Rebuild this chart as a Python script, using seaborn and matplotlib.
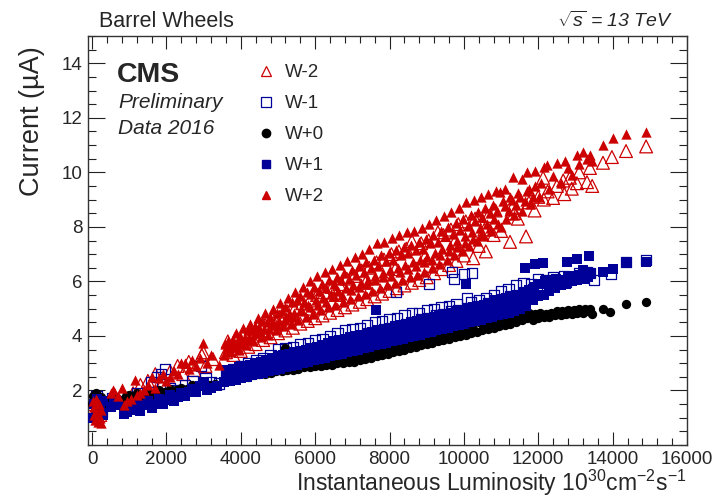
import matplotlib
matplotlib.use("Agg")
import matplotlib.pyplot as plt
from matplotlib.lines import Line2D
from matplotlib.ticker import MultipleLocator
import seaborn as sns
import pandas as pd

# ---------------- data, (luminosity, current) ----------------
wm2_pts = [
    (30, 1.5), (90, 1.2), (160, 1.6), (220, 1.1), (600, 1.85), (1100, 1.9), (1300, 2.2), (1500, 2.35),
    (1700, 2.6), (1900, 2.3), (2100, 2.7), (2300, 2.9), (2450, 2.6), (2600, 3.05), (2750, 2.75),
    (2950, 3.3), (3050, 2.9), (3250, 3.15), (2990, 3.4),
    (3600, 3.4), (3650, 3.8), (3800, 3.3), (3850, 3.9), (4000, 3.45), (4050, 4.0), (4200, 3.6), (4250, 4.1),
    (4400, 3.7), (4450, 4.3), (4600, 3.85), (4650, 4.4), (4800, 3.95), (4850, 4.6), (5000, 4.1), (5050, 4.7),
    (5200, 4.2), (5250, 4.9), (5400, 4.3), (5450, 5.0), (5600, 4.45), (5650, 5.2), (5800, 4.55), (5850, 5.3),
    (6000, 4.65), (6050, 5.5), (6200, 4.75), (6250, 5.6), (6400, 4.85), (6450, 5.8), (6600, 4.95), (6650, 5.9),
    (6800, 5.05), (6850, 6.1), (7000, 5.15), (7050, 6.2), (7200, 5.25), (7250, 6.4), (7400, 5.35), (7450, 6.5),
    (7600, 5.45), (7650, 6.7), (7800, 5.55), (7850, 6.8), (8000, 5.65), (8050, 7.0), (8200, 5.75), (8250, 7.1),
    (8400, 5.85), (8450, 7.2), (8600, 5.95), (8600, 7.48), (8800, 6.05), (8850, 7.4), (9000, 6.15), (9050, 7.5),
    (9200, 6.3), (9300, 7.8), (9400, 6.45), (9450, 7.7), (9600, 6.6), (9650, 7.9), (9800, 6.75), (9850, 8.1),
    (10000, 6.95), (10050, 8.2), (10250, 6.85), (10300, 8.3), (10400, 7.3), (10590, 7.1), (10650, 8.4),
    (10800, 7.7), (10850, 8.6), (11000, 7.85), (11240, 7.45), (11300, 8.7), (11450, 8.3), (11670, 7.65),
    (11750, 8.9), (11900, 8.6), (12000, 9.1), (12130, 9.8), (12250, 9.3), (12400, 9.06), (12500, 9.5),
    (12670, 9.7), (12700, 9.2), (12850, 9.8), (12900, 9.4), (13040, 9.6), (13100, 10.0), (13310, 9.64),
    (13390, 10.16), (13450, 9.5), (13740, 10.35), (13980, 10.56), (14360, 10.78), (14900, 10.95),
    (4150, 3.9), (4950, 4.5), (5750, 5.0), (6550, 5.5), (7350, 5.95), (8150, 6.45), (8950, 6.9),
    (9750, 7.45), (10550, 7.9), (11350, 8.5), (12150, 9.0),
]

wm1_pts = [
    (40, 1.3), (120, 1.8), (200, 1.5), (260, 1.2), (550, 1.7), (800, 1.6), (1000, 1.75), (1200, 1.9),
    (1400, 1.7), (1600, 2.3), (1750, 2.5), (1850, 2.6), (1960, 2.8), (2100, 2.1), (2300, 2.0), (2500, 2.2),
    (2700, 2.35), (2930, 2.9), (3050, 2.45), (3200, 2.3), (3410, 2.25),
    (3600, 2.7), (3650, 2.5), (3800, 2.8), (3850, 2.6), (4000, 2.9), (4050, 2.7), (4200, 3.0), (4250, 2.75),
    (4400, 3.1), (4450, 2.85), (4600, 3.2), (4650, 2.95), (4800, 3.3), (4850, 3.0), (5000, 3.5), (5050, 3.1),
    (5200, 3.55), (5250, 3.2), (5400, 3.6), (5450, 3.3), (5600, 3.7), (5650, 3.35), (5800, 3.75), (5850, 3.45),
    (6000, 3.85), (6050, 3.5), (6200, 3.9), (6250, 3.6), (6400, 4.0), (6450, 3.7), (6600, 4.1), (6650, 3.75),
    (6800, 4.2), (6850, 3.85), (7000, 4.25), (7050, 3.9), (7200, 4.3), (7250, 4.0), (7400, 4.4), (7450, 4.1),
    (7600, 4.5), (7650, 4.15), (7800, 4.55), (7850, 4.25), (8000, 4.6), (8050, 4.3), (8170, 5.6),
    (8200, 4.65), (8250, 4.35), (8400, 4.75), (8450, 4.45), (8600, 4.85), (8650, 4.5), (8800, 4.85),
    (8850, 4.6), (9000, 4.95), (9050, 4.65), (9060, 5.9), (9200, 5.0), (9250, 4.75), (9400, 5.05),
    (9450, 4.8), (9600, 5.1), (9650, 4.9), (9680, 6.35), (9730, 6.1), (9800, 5.15), (9850, 4.95),
    (10000, 6.27), (10080, 5.4), (10220, 6.3), (10200, 5.25), (10250, 5.0), (10400, 5.3), (10450, 5.1),
    (10600, 5.4), (10650, 5.2), (10800, 5.5), (10850, 5.25), (11000, 5.65), (11050, 5.35), (11200, 5.7),
    (11250, 5.45), (11400, 5.85), (11450, 5.5), (11600, 5.95), (11650, 5.6), (11800, 5.9), (11850, 5.7),
    (12000, 6.1), (12050, 5.8), (12200, 6.05), (12250, 5.85), (12400, 6.15), (12450, 5.9), (12690, 6.2),
    (12750, 6.0), (12900, 6.15), (13100, 6.3), (13310, 6.35), (13390, 6.3), (13500, 6.05), (13960, 6.27),
    (14360, 6.7), (14900, 6.78),
]

w0_pts = [
    (0, 1.5), (30, 1.8), (70, 1.4), (110, 1.9), (150, 1.6), (190, 1.3), (230, 1.75), (270, 1.5), (300, 1.65),
    (520, 1.7), (650, 1.75), (800, 1.6), (900, 1.8), (1000, 1.85), (1100, 1.7), (1200, 1.9), (1350, 1.8),
    (1500, 1.95), (1650, 1.85), (1800, 2.0), (1950, 1.95), (2100, 2.05), (2250, 2.0), (2400, 2.1),
    (2550, 2.05), (2700, 2.2), (2850, 2.15), (3000, 2.3), (3150, 2.2), (3300, 2.25),
    (3600, 2.35), (3650, 2.5), (3750, 2.4), (3800, 2.55), (3900, 2.45), (3950, 2.6), (4050, 2.5), (4100, 2.65),
    (4200, 2.5), (4250, 2.7), (4350, 2.55), (4400, 2.7), (4500, 2.6), (4550, 2.75), (4650, 2.6), (4700, 2.8),
    (4800, 2.65), (4850, 2.8), (4950, 2.7), (5000, 2.85), (5100, 2.7), (5150, 2.9), (5190, 3.55), (5250, 2.75),
    (5300, 2.9), (5400, 2.75), (5450, 2.95), (5550, 2.8), (5600, 2.95), (5700, 2.85), (5750, 3.0), (5850, 2.85),
    (5900, 3.0), (6000, 2.9), (6050, 3.05), (6150, 2.9), (6200, 3.05), (6300, 2.95), (6350, 3.1), (6450, 2.95),
    (6500, 3.1), (6600, 3.0), (6650, 3.15), (6750, 3.0), (6800, 3.2), (6900, 3.05), (6950, 3.2), (7050, 3.05),
    (7100, 3.25), (7200, 3.1), (7250, 3.3), (7350, 3.15), (7400, 3.3), (7500, 3.2), (7550, 3.35), (7650, 3.25),
    (7700, 3.4), (7800, 3.3), (7850, 3.45), (7950, 3.35), (8000, 3.5), (8100, 3.4), (8150, 3.55), (8250, 3.45),
    (8300, 3.6), (8400, 3.5), (8450, 3.65), (8550, 3.55), (8600, 3.7), (8700, 3.6), (8750, 3.75), (8850, 3.65),
    (8900, 3.8), (9000, 3.7), (9050, 3.85), (9150, 3.75), (9200, 3.9), (9300, 3.8), (9350, 3.95), (9450, 3.85),
    (9500, 4.0), (9600, 3.9), (9650, 4.05), (9750, 3.95), (9800, 4.1), (9900, 4.0), (9950, 4.15), (10050, 4.05),
    (10100, 4.2), (10200, 4.1), (10250, 4.25), (10350, 4.15), (10400, 4.5), (10500, 4.2), (10550, 4.35),
    (10650, 4.25), (10700, 4.4), (10800, 4.3), (10850, 4.5), (10950, 4.35), (11000, 4.55), (11100, 4.4),
    (11150, 4.6), (11250, 4.45), (11300, 4.65), (11400, 4.5), (11450, 4.7), (11550, 4.6), (11600, 4.8),
    (11700, 4.65), (11750, 4.85), (11850, 4.6), (11900, 4.8), (12000, 4.65), (12050, 4.85), (12150, 4.7),
    (12200, 4.8), (12300, 4.7), (12350, 4.85), (12450, 4.75), (12500, 4.9), (12600, 4.75), (12650, 4.9),
    (12750, 4.8), (12800, 4.95), (12900, 4.8), (12950, 4.95), (13050, 4.85), (13100, 5.0), (13200, 4.85),
    (13250, 5.0), (13350, 4.9), (13400, 5.0), (13450, 4.8), (13740, 4.99), (13930, 4.88), (14360, 5.17),
    (14900, 5.24),
]

wp1_pts = [
    (20, 1.0), (60, 1.5), (100, 1.2), (140, 1.7), (180, 0.95), (220, 1.4), (280, 1.6), (300, 1.1), (500, 1.4),
    (600, 1.55), (700, 1.45), (850, 1.15), (950, 1.2), (1050, 1.3), (1150, 1.55), (1300, 1.25), (1400, 1.45),
    (1500, 1.6), (1600, 1.35), (1700, 1.5), (1800, 1.7), (1900, 1.5), (2000, 1.65), (2100, 1.85), (2200, 1.6),
    (2300, 1.75), (2400, 1.9), (2500, 1.8), (2600, 1.95), (2700, 2.05), (2800, 1.95), (2900, 2.15),
    (3000, 2.3), (3100, 2.0), (3200, 2.1), (3350, 2.15),
    (3560, 2.3), (3600, 2.55), (3640, 2.75), (3710, 2.35), (3750, 2.6), (3790, 2.8), (3860, 2.4), (3900, 2.7),
    (3940, 2.85), (4010, 2.45), (4050, 2.65), (4090, 2.9), (4160, 2.5), (4200, 2.8), (4240, 2.95),
    (4310, 2.55), (4350, 2.75), (4390, 3.0), (4460, 2.6), (4500, 2.85), (4540, 3.05), (4610, 2.65),
    (4650, 2.95), (4690, 3.1), (4760, 2.7), (4800, 2.9), (4840, 3.2), (4910, 2.75), (4950, 3.0), (4990, 3.25),
    (5060, 2.8), (5100, 3.1), (5140, 3.3), (5210, 2.85), (5250, 3.05), (5290, 3.35), (5360, 2.9), (5400, 3.15),
    (5440, 3.4), (5510, 2.95), (5550, 3.2), (5590, 3.45), (5660, 3.0), (5700, 3.3), (5740, 3.5), (5810, 3.05),
    (5850, 3.25), (5890, 3.55), (5960, 3.1), (6000, 3.35), (6040, 3.6), (6110, 3.15), (6150, 3.45),
    (6190, 3.65), (6260, 3.2), (6300, 3.4), (6340, 3.75), (6410, 3.25), (6450, 3.5), (6490, 3.8),
    (6560, 3.3), (6600, 3.6), (6640, 3.85), (6710, 3.35), (6750, 3.55), (6790, 3.9), (6860, 3.4), (6900, 3.65),
    (6940, 3.95), (7010, 3.45), (7050, 3.75), (7090, 4.0), (7160, 3.5), (7200, 3.7), (7240, 4.05),
    (7310, 3.55), (7350, 3.8), (7390, 4.1), (7460, 3.6), (7500, 3.9), (7540, 4.15), (7610, 3.65),
    (7640, 4.95), (7650, 3.85), (7690, 4.2), (7760, 3.7), (7800, 3.95), (7840, 4.25), (7910, 3.75),
    (7950, 4.05), (7990, 4.3), (8060, 3.8), (8100, 4.0), (8140, 4.35), (8210, 3.85), (8250, 4.1), (8290, 4.4),
    (8360, 3.9), (8400, 4.2), (8440, 4.45), (8510, 3.95), (8550, 4.15), (8590, 4.5), (8660, 4.0), (8700, 4.25),
    (8740, 4.55), (8810, 4.05), (8850, 4.35), (8890, 4.6), (8960, 4.1), (9000, 4.3), (9040, 4.65),
    (9110, 4.15), (9150, 4.4), (9190, 4.7), (9260, 4.2), (9300, 4.5), (9340, 4.75), (9410, 4.25), (9450, 4.45),
    (9490, 4.8), (9560, 4.3), (9600, 4.55), (9640, 4.85), (9710, 4.35), (9750, 4.65), (9790, 4.9),
    (9860, 4.4), (9900, 4.6), (9940, 4.95), (10010, 4.45), (10050, 4.7), (10060, 5.9), (10090, 5.0),
    (10160, 4.5), (10200, 4.8), (10240, 5.05), (10310, 4.55), (10350, 4.75), (10390, 5.1), (10460, 4.6),
    (10500, 4.85), (10540, 5.15), (10610, 4.65), (10650, 4.95), (10690, 5.2), (10760, 4.7), (10800, 4.9),
    (10840, 5.3), (10910, 4.75), (10950, 5.0), (10990, 5.35), (11060, 4.8), (11100, 5.1), (11140, 5.4),
    (11210, 4.85), (11250, 5.05), (11290, 5.45), (11360, 4.9), (11400, 5.15), (11440, 5.5), (11510, 5.0),
    (11550, 5.25), (11590, 5.6), (11640, 6.5), (11660, 5.1), (11700, 5.4), (11740, 5.7),
    (11850, 5.3), (11880, 5.8), (11910, 6.64), (12000, 5.45), (12030, 5.9), (12130, 6.68), (12150, 5.5),
    (12180, 6.0), (12300, 5.65), (12330, 6.05), (12450, 5.75), (12480, 6.1), (12600, 5.85), (12630, 6.05),
    (12750, 5.9), (12770, 6.7), (12800, 6.15), (12900, 6.0), (12940, 6.2), (13040, 6.82), (13050, 6.05),
    (13100, 6.25), (13200, 6.42), (13250, 6.1), (13350, 6.15), (13360, 6.93), (13400, 6.3),
    (13740, 6.35), (14010, 6.45), (14360, 6.67), (14900, 6.72),
    (3680, 2.65), (3980, 2.8), (4280, 2.9), (4580, 3.0), (4880, 3.1), (5180, 3.2), (5480, 3.3), (5780, 3.4),
    (6080, 3.5), (6380, 3.6), (6680, 3.7), (6980, 3.85), (7280, 3.9), (7580, 4.0), (7880, 4.15), (8180, 4.25),
    (8480, 4.3), (8780, 4.45), (9080, 4.5), (9380, 4.6), (9680, 4.75), (9980, 4.85), (10280, 4.95),
    (10580, 5.05), (10880, 5.15), (11180, 5.25), (11480, 5.4),
    (3830, 2.5), (4130, 2.6), (4430, 2.7), (4730, 2.8), (5030, 2.95), (5330, 3.0), (5630, 3.1), (5930, 3.2),
    (6230, 3.3), (6530, 3.4), (6830, 3.5), (7130, 3.6), (7430, 3.7), (7730, 3.8), (8030, 3.9), (8330, 4.0),
    (8630, 4.1), (8930, 4.2), (9230, 4.3), (9530, 4.4), (9830, 4.5), (10130, 4.6), (10430, 4.7),
    (10730, 4.8), (11030, 4.9), (11330, 5.0),
]

wp2_pts = [
    (20, 1.6), (40, 1.1), (60, 1.4), (80, 0.9), (100, 1.7), (120, 1.2), (150, 0.85), (180, 1.5), (200, 1.0),
    (230, 1.3), (250, 0.8), (500, 1.9), (550, 2.0), (700, 1.8), (800, 2.1), (850, 1.45), (950, 1.6),
    (1050, 1.7), (1150, 2.4), (1200, 1.85), (1300, 1.9), (1400, 2.0), (1500, 2.2), (1600, 2.5), (1700, 2.1),
    (1800, 2.45), (1900, 2.6), (2000, 2.35), (2100, 2.5), (2200, 2.7), (2300, 2.6), (2400, 3.0), (2500, 3.0),
    (2600, 2.8), (2700, 3.1), (2800, 2.9), (2900, 3.2), (2990, 3.75), (3100, 3.0), (3200, 3.3), (3400, 2.95),
    (3540, 3.3), (3580, 3.7), (3620, 3.55), (3660, 3.8), (3740, 3.4), (3780, 3.85), (3820, 3.7), (3860, 4.1),
    (3940, 3.5), (3980, 4.0), (4020, 3.8), (4060, 4.3), (4140, 3.65), (4180, 4.2), (4220, 3.95), (4260, 4.45),
    (4340, 3.8), (4380, 4.35), (4420, 4.1), (4460, 4.65), (4540, 3.95), (4580, 4.55), (4620, 4.25),
    (4660, 4.85), (4740, 4.05), (4780, 4.7), (4820, 4.4), (4860, 5.0), (4940, 4.2), (4980, 4.85), (5020, 4.55),
    (5060, 5.2), (5140, 4.35), (5180, 5.05), (5220, 4.7), (5260, 5.4), (5340, 4.45), (5380, 5.25),
    (5420, 4.85), (5460, 5.6), (5540, 4.6), (5580, 5.45), (5620, 5.0), (5660, 5.8), (5740, 4.7), (5780, 5.6),
    (5820, 5.15), (5860, 6.0), (5940, 4.8), (5980, 5.8), (6020, 5.3), (6060, 6.2), (6140, 4.95), (6180, 5.9),
    (6220, 5.4), (6260, 6.35), (6340, 5.05), (6380, 6.05), (6420, 5.55), (6460, 6.45), (6540, 5.15),
    (6580, 6.15), (6620, 5.65), (6660, 6.6), (6740, 5.25), (6780, 6.3), (6820, 5.75), (6860, 6.75),
    (6940, 5.35), (6980, 6.4), (7020, 5.85), (7060, 6.9), (7140, 5.45), (7180, 6.55), (7220, 5.95),
    (7260, 7.0), (7340, 5.55), (7380, 6.7), (7420, 6.05), (7460, 7.2), (7540, 5.65), (7580, 6.8), (7620, 6.2),
    (7660, 7.4), (7740, 5.75), (7780, 6.95), (7820, 6.3), (7860, 7.45), (7940, 5.85), (7980, 7.05),
    (8020, 6.4), (8060, 7.6), (8140, 5.95), (8180, 7.15), (8220, 6.5), (8260, 7.7), (8340, 6.05), (8380, 7.25),
    (8420, 6.6), (8460, 7.8), (8540, 6.15), (8580, 7.35), (8620, 6.7), (8660, 7.85), (8740, 6.25),
    (8780, 7.45), (8820, 6.8), (8860, 7.95), (8940, 6.35), (8980, 7.55), (9020, 6.9), (9060, 8.1),
    (9140, 6.5), (9180, 7.7), (9220, 7.05), (9260, 8.25), (9340, 6.65), (9380, 7.85), (9420, 7.2),
    (9460, 8.4), (9540, 6.8), (9580, 8.0), (9620, 7.35), (9660, 8.55), (9740, 6.95), (9780, 8.15),
    (9820, 7.5), (9860, 8.7), (9940, 7.1), (9980, 8.3), (10020, 7.65), (10060, 8.9), (10140, 7.3),
    (10180, 8.45), (10220, 7.8), (10260, 9.0), (10340, 7.5), (10380, 8.55), (10420, 7.95), (10460, 9.1),
    (10540, 7.65), (10580, 8.7), (10620, 8.1), (10660, 9.2), (10740, 7.85), (10780, 8.8), (10820, 8.3),
    (10860, 9.3), (10970, 9.28), (11000, 8.0), (11040, 8.95), (11100, 9.4), (11200, 8.6), (11240, 9.1),
    (11320, 9.83), (11400, 8.8), (11450, 9.25), (11550, 9.75), (11650, 8.95), (11700, 10.0), (11760, 9.4),
    (11850, 9.1), (11910, 10.05), (12020, 9.1), (12080, 9.6), (12150, 10.2), (12230, 10.27), (12300, 9.4),
    (12400, 9.85), (12500, 10.34), (12600, 9.6), (12720, 10.4), (12800, 10.15), (12900, 9.9),
    (13040, 10.63), (13100, 10.3), (13200, 10.74), (13300, 10.5), (13390, 10.63), (13450, 10.4),
    (13740, 11.0), (14010, 11.26), (14360, 11.4), (14900, 11.48),
    (3700, 3.6), (3900, 3.75), (4100, 3.9), (4300, 4.2), (4500, 4.3), (4700, 4.5), (4900, 4.45), (5100, 4.9),
    (5300, 4.8), (5500, 5.3), (5700, 5.25), (5900, 5.55), (6100, 5.65), (6300, 5.75), (6500, 5.9),
    (6700, 6.05), (6900, 6.1), (7100, 6.25), (7300, 6.35), (7500, 6.5), (7700, 6.55), (7900, 6.75),
    (8100, 6.8), (8300, 6.95), (8500, 7.05), (8700, 7.15), (8900, 7.2), (9100, 7.4), (9300, 7.45),
    (9500, 7.65), (9700, 7.75), (9900, 7.9), (10100, 8.05), (10300, 8.2), (10500, 8.35), (10700, 8.5),
    (10900, 8.6), (11100, 8.75), (11300, 9.0), (11500, 9.1), (11700, 9.3), (11900, 9.5),
    (3650, 3.45), (3870, 3.6), (4090, 3.7), (4310, 3.9), (4530, 4.1), (4750, 4.25), (4970, 4.4), (5190, 4.6),
    (5410, 4.7), (5630, 4.9), (5850, 5.05), (6070, 5.15), (6290, 5.25), (6510, 5.45), (6730, 5.5),
    (6950, 5.7), (7170, 5.8), (7390, 5.9), (7610, 6.05), (7830, 6.15), (8050, 6.2), (8270, 6.35),
    (8490, 6.45), (8710, 6.55), (8930, 6.7), (9150, 6.8), (9370, 6.95), (9590, 7.1), (9810, 7.25),
    (10030, 7.4), (10250, 7.55), (10470, 7.7), (10690, 7.95), (10910, 8.1), (11130, 8.3), (11350, 8.45),
    (11570, 8.6), (11790, 8.85),
]

labels = ["W-2", "W-1", "W+0", "W+1", "W+2"]
x_ticks = [0, 2000, 4000, 6000, 8000, 10000, 12000, 14000, 16000]
y_ticks = [2, 4, 6, 8, 10, 12, 14]

RED = "#cc0000"
BLUE = "#000099"
BLACK = "#000000"

# ---------------- style ----------------
sns.set_theme(style="ticks")
plt.rcParams["font.family"] = ["Liberation Sans", "DejaVu Sans"]
plt.rcParams["mathtext.fontset"] = "custom"
plt.rcParams["mathtext.rm"] = "Liberation Sans"
plt.rcParams["mathtext.it"] = "Liberation Sans:italic"
plt.rcParams["mathtext.default"] = "regular"

W, H = 715, 504
fig = plt.figure(figsize=(W / 100, H / 100), dpi=100)
ax = fig.add_axes([88 / W, 1 - 445 / H, (687 - 88) / W, (445 - 36) / H])


def frame(pts):
    return pd.DataFrame({"x": [p[0] for p in pts], "y": [p[1] for p in pts]})


sns.scatterplot(data=frame(wm2_pts), x="x", y="y", ax=ax, marker="^", s=85,
                facecolors="none", edgecolors=RED, linewidth=0.9, legend=False, zorder=2)
sns.scatterplot(data=frame(wm1_pts), x="x", y="y", ax=ax, marker="s", s=55,
                facecolors="none", edgecolors=BLUE, linewidth=0.9, legend=False, zorder=2)
sns.scatterplot(data=frame(w0_pts), x="x", y="y", ax=ax, marker="o", s=45,
                color=BLACK, edgecolor=BLACK, linewidth=0, legend=False, zorder=3)
sns.scatterplot(data=frame(wp1_pts), x="x", y="y", ax=ax, marker="s", s=45,
                color=BLUE, edgecolor=BLUE, linewidth=0, legend=False, zorder=4)
sns.scatterplot(data=frame(wp2_pts), x="x", y="y", ax=ax, marker="^", s=55,
                color=RED, edgecolor=RED, linewidth=0, legend=False, zorder=5)

ax.set_xlim(-110, 16000)
ax.set_ylim(0, 15)
ax.set_xticks(x_ticks)
ax.set_xticklabels([str(v) for v in x_ticks])
ax.set_yticks(y_ticks)
ax.set_yticklabels([str(v) for v in y_ticks])
ax.xaxis.set_minor_locator(MultipleLocator(400))
ax.yaxis.set_minor_locator(MultipleLocator(0.5))

ax.tick_params(axis="both", which="both", direction="in", top=True, right=True,
               labelsize=13.5, width=0.8, color="#222222")
ax.tick_params(axis="x", which="major", length=9.4, pad=4)
ax.tick_params(axis="x", which="minor", length=5)
ax.tick_params(axis="y", which="major", length=12, pad=4)
ax.tick_params(axis="y", which="minor", length=6)
for sp in ax.spines.values():
    sp.set_linewidth(1.0)
    sp.set_color("#333333")

ax.set_xlabel("Instantaneous Luminosity 10$^{30}$cm$^{-2}$s$^{-1}$", fontsize=16.5, loc="right")
ax.xaxis.set_label_coords(1.0, -0.056)
ax.set_ylabel("Current (\u00b5A)", fontsize=19.5, loc="top")
ax.yaxis.set_label_coords(-0.072, 0.975)

fig.text(99 / W, 1 - 27 / H, "Barrel Wheels", fontsize=15.5, ha="left", va="baseline")
fig.text(673 / W, 1 - 27 / H, r"$\sqrt{s}$ = 13 TeV", fontsize=14, style="italic",
         ha="right", va="baseline")
fig.text(117 / W, 1 - 82 / H, "CMS", fontsize=20.5, weight="bold", ha="left", va="baseline")
fig.text(118 / W, 1 - 108 / H, "Preliminary", fontsize=15, style="italic", ha="left", va="baseline")
fig.text(118 / W, 1 - 134 / H, "Data 2016", fontsize=15, style="italic", ha="left", va="baseline")

handles = [
    Line2D([], [], ls="", marker="^", ms=7, mfc="none", mec=RED, mew=0.9),
    Line2D([], [], ls="", marker="s", ms=6.5, mfc="none", mec=BLUE, mew=0.9),
    Line2D([], [], ls="", marker="o", ms=6, mfc=BLACK, mec=BLACK),
    Line2D([], [], ls="", marker="s", ms=5.5, mfc=BLUE, mec=BLUE),
    Line2D([], [], ls="", marker="^", ms=6, mfc=RED, mec=RED),
]
ax.legend(handles, labels, loc="upper left", bbox_to_anchor=((256.6 - 88) / 599, (445 - 64) / 409),
          frameon=False, fontsize=13.5, handlelength=1.0, handletextpad=0.5,
          borderpad=0, borderaxespad=0, labelspacing=0.74)

fig.savefig("out.png", dpi=100)
